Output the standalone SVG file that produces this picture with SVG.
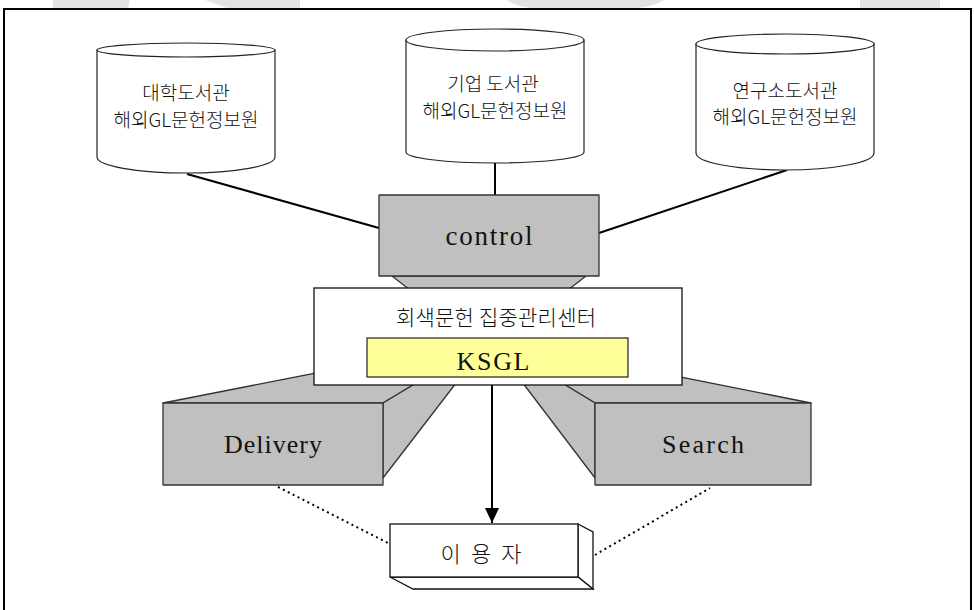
<svg xmlns="http://www.w3.org/2000/svg" width="974" height="610" viewBox="0 0 974 610">
<defs>
<style>
.wm{fill:#e3e3e3;stroke:none}
.cyl{fill:#fff;stroke:#222;stroke-width:1.2}
.gray{fill:#c0c0c0;stroke:#333;stroke-width:1.3;stroke-linejoin:round}
.white{fill:#fff;stroke:#111;stroke-width:1.3}
.conn{stroke:#000;stroke-width:2;fill:none}
.dot{stroke:#000;stroke-width:2;fill:none;stroke-dasharray:2 3.5}
.t{font-family:"Liberation Serif","Noto Sans CJK KR",serif;fill:#111;text-anchor:middle}
.k{font-family:"Noto Sans CJK KR","Liberation Serif",sans-serif;fill:#111;text-anchor:middle;font-weight:300}
</style>
<marker id="arr" markerUnits="userSpaceOnUse" markerWidth="15" markerHeight="14" viewBox="0 0 15 14" refX="15" refY="7" orient="auto">
<path d="M0,0 L15,7 L0,14 z" fill="#000"/>
</marker>
</defs>
<rect x="0" y="0" width="974" height="610" fill="#fff"/>
<g id="watermark">
<path class="wm" d="M53,0 L130,0 L128,9 L53,9 z"/>
<path class="wm" d="M205,0 L300,0 L300,9 L230,9 z"/>
<path class="wm" d="M507,0 L664,0 C655,6 640,9 620,9 L550,9 C530,9 515,6 507,0 z"/>
<path class="wm" d="M860,0 L940,0 L940,9 L860,9 z"/>
</g>
<rect id="frame" x="4" y="9" width="967" height="620" fill="#fff" stroke="#000" stroke-width="2"/>
<g id="connectors">
<line class="conn" x1="187" y1="174" x2="379" y2="228"/>
<line class="conn" x1="495" y1="163" x2="495" y2="195"/>
<line class="conn" x1="787" y1="170" x2="599" y2="233"/>
<line class="conn" x1="492" y1="385" x2="492" y2="523" marker-end="url(#arr)"/>
<line class="dot" x1="278" y1="487" x2="388" y2="543"/>
<line class="dot" x1="595" y1="555" x2="710" y2="488"/>
</g>
<g id="cyl-univ">
<path class="cyl" d="M97,50 L97,157 A89,16 0 0 0 275,157 L275,50 z"/>
<ellipse class="cyl" cx="186" cy="50" rx="89" ry="7"/>
<text class="k" x="186" y="100" font-size="19">대학도서관</text>
<text class="k" x="186" y="127" font-size="19">해외GL문헌정보원</text>
</g>
<g id="cyl-corp">
<path class="cyl" d="M406,40 L406,152 A89,11 0 0 0 584,152 L584,40 z"/>
<ellipse class="cyl" cx="495" cy="40" rx="89" ry="11"/>
<text class="k" x="493" y="91" font-size="19">기업 도서관</text>
<text class="k" x="495" y="118" font-size="19">해외GL문헌정보원</text>
</g>
<g id="cyl-inst">
<path class="cyl" d="M696,44 L696,153 A89,17 0 0 0 874,153 L874,44 z"/>
<ellipse class="cyl" cx="785" cy="44" rx="89" ry="10"/>
<text class="k" x="785" y="98" font-size="19">연구소도서관</text>
<text class="k" x="785" y="124" font-size="19">해외GL문헌정보원</text>
</g>
<g id="delivery">
<polygon class="gray" points="163,403 383,403 463,355 408,355"/>
<polygon class="gray" points="383,403 463,355 463,374 383,478"/>
<rect class="gray" x="163" y="403" width="220" height="82"/>
<text class="t" x="273" y="453" font-size="26" textLength="98">Delivery</text>
</g>
<g id="search">
<polygon class="gray" points="595,403 811,403 570,355 516,355"/>
<polygon class="gray" points="595,403 516,355 516,374 595,478"/>
<rect class="gray" x="595" y="403" width="216" height="82"/>
<text class="t" x="703" y="453" font-size="26" textLength="82">Search</text>
</g>
<g id="control">
<polygon class="gray" points="392,276 586,276 568,290 410,290"/>
<rect class="gray" x="379" y="195" width="220" height="81"/>
<text class="t" x="489" y="245" font-size="27" textLength="87">control</text>
</g>
<g id="center">
<rect class="white" x="314" y="288" width="368" height="97"/>
<text class="k" x="496" y="325" font-size="21" textLength="200">회색문헌 집중관리센터</text>
<rect x="367" y="338" width="261" height="39" fill="#ffff99" stroke="#222" stroke-width="1.2"/>
<text class="t" x="493" y="370" font-size="26" textLength="73">KSGL</text>
</g>
<g id="user">
<polygon class="white" points="578,524 593,532 593,589 578,577"/>
<polygon class="white" points="390,577 413,589 593,589 578,577"/>
<rect class="white" x="390" y="524" width="188" height="53"/>
<text class="k" x="481" y="562" font-size="22" textLength="81">이 용 자</text>
</g>
</svg>
